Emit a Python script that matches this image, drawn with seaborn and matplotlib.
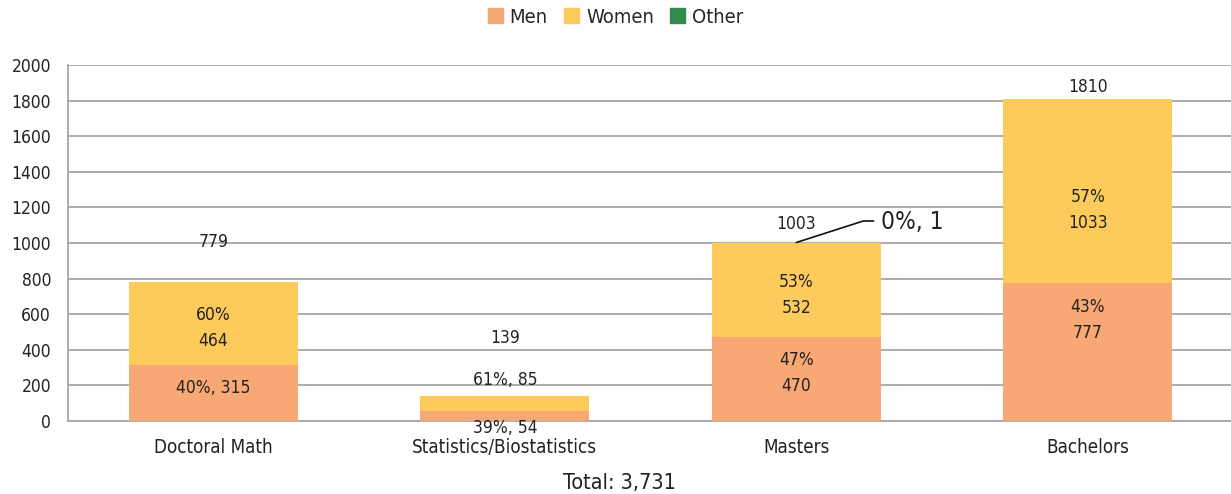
import numpy as np
import pandas as pd
import matplotlib.pyplot as plt
from matplotlib.patches import Patch
import seaborn as sns

# dados
categorias = ['Doctoral Math', 'Statistics/Biostatistics', 'Masters', 'Bachelors']
homens = [315, 54, 470, 777]
mulheres = [464, 85, 532, 1033]
outros = [0, 0, 1, 0]
pct_homens = [40, 39, 47, 43]
pct_mulheres = [60, 61, 53, 57]

cor_homens = '#F8A874'
cor_mulheres = '#FDCB5B'
cor_outros = '#2F8A50'

sns.set_theme(style='white')
plt.rcParams['font.family'] = ['DejaVu Sans']
plt.rcParams['font.stretch'] = 'condensed'

df = pd.DataFrame({'cat': categorias, 'men': homens, 'women': mulheres, 'other': outros})
df['mw'] = df['men'] + df['women']
df['total'] = df['mw'] + df['other']

fig = plt.figure(figsize=(12.31, 4.94), dpi=100)
ax = fig.add_axes([0.055, 0.148, 0.947, 0.72])

largura = 0.58
sns.barplot(data=df, x='cat', y='total', color=cor_outros, saturation=1, width=largura, ax=ax, zorder=3, linewidth=0)
sns.barplot(data=df, x='cat', y='mw', color=cor_mulheres, saturation=1, width=largura, ax=ax, zorder=3, linewidth=0)
sns.barplot(data=df, x='cat', y='men', color=cor_homens, saturation=1, width=largura, ax=ax, zorder=3, linewidth=0)

ax.set_ylim(0, 2000)
ax.set_xlim(-0.5, 3.5)
ax.set_yticks(range(0, 2001, 200))
ax.yaxis.grid(True, color='#A6A6A6', linewidth=1.3, zorder=0)
ax.set_xlabel('')
ax.set_ylabel('')
for s in ['top', 'right']:
    ax.spines[s].set_visible(False)
for s in ['left', 'bottom']:
    ax.spines[s].set_color('#A6A6A6')
    ax.spines[s].set_linewidth(1.3)
ax.tick_params(axis='y', which='major', length=6, color='#A6A6A6', width=1.3, labelsize=12.5, labelcolor='#222222', pad=6)
ax.tick_params(axis='x', which='major', length=0, labelsize=13.5, labelcolor='#222222', pad=12)
ax.set_xticks(np.arange(-0.5, 4, 1), minor=True)
ax.tick_params(axis='x', which='minor', length=6, color='#A6A6A6', width=1.3)

fs = 12.5
# posicoes dos rotulos (layout)
y_total = [1005, 466, 1107, 1876]
y_mulheres = [522, 230, 708, 1185]
y_homens = [185, -39, 270, 567]
duas_linhas = [True, False, True, True]

for i in range(len(categorias)):
    ax.text(i, y_total[i], f"{df['total'][i]}", ha='center', va='center', fontsize=fs, color='#222222')
    if duas_linhas[i]:
        ax.text(i, y_mulheres[i], f"{pct_mulheres[i]}%\n{mulheres[i]}", ha='center', va='center',
                fontsize=fs, color='#222222', linespacing=1.6)
    else:
        ax.text(i, y_mulheres[i], f"{pct_mulheres[i]}%, {mulheres[i]}", ha='center', va='center',
                fontsize=fs, color='#222222')
    if i == 0 or i == 1:
        ax.text(i, y_homens[i], f"{pct_homens[i]}%, {homens[i]}", ha='center', va='center',
                fontsize=fs, color='#222222', clip_on=False, zorder=5)
    else:
        ax.text(i, y_homens[i], f"{pct_homens[i]}%\n{homens[i]}", ha='center', va='center',
                fontsize=fs, color='#222222', linespacing=1.6)

# rotulo do "Other" com linha de chamada
ax.plot([2, 2.23, 2.265], [df['total'][2], 1124, 1124], color='#111111', linewidth=1.2, zorder=4)
ax.text(2.29, 1118, f"0%, {outros[2]}", ha='left', va='center', fontsize=17.5, color='#222222')

# legenda
itens = [Patch(color=cor_homens, label='Men'), Patch(color=cor_mulheres, label='Women'),
         Patch(color=cor_outros, label='Other')]
fig.legend(handles=itens, loc='center', bbox_to_anchor=(0.5, 0.965), ncol=3, frameon=False,
           fontsize=14.5, handlelength=0.75, handleheight=0.75, handletextpad=0.35, columnspacing=0.8)

fig.text(0.503, 0.022, 'Total: 3,731', ha='center', va='center', fontsize=15.5, color='#222222')

fig.savefig('out.png', dpi=100)
